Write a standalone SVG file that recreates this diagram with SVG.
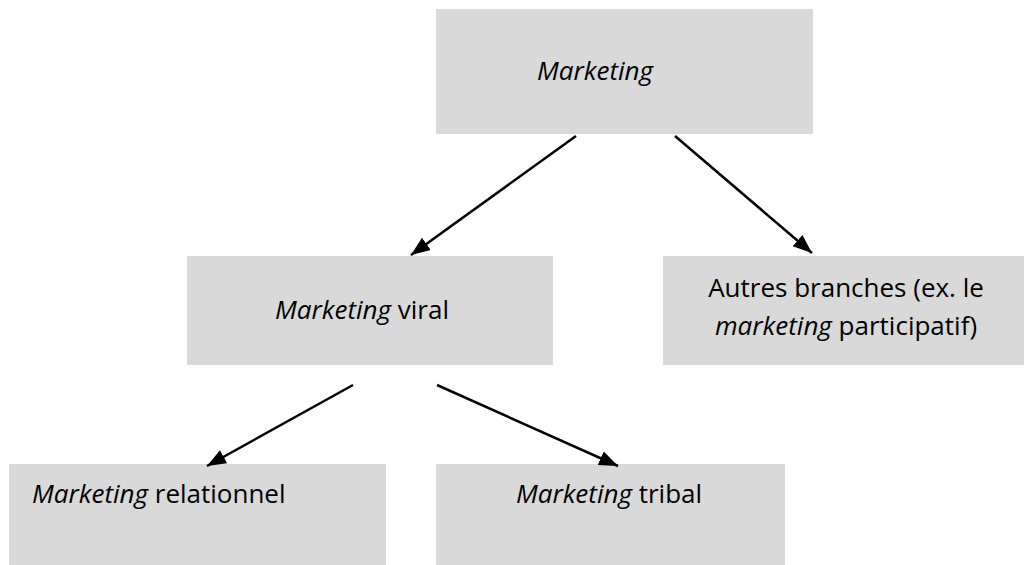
<svg xmlns="http://www.w3.org/2000/svg" width="1028" height="565" viewBox="0 0 1028 565">
<style>
.box{fill:#d9d9d9}
.t{font-family:"Open Sans","Noto Sans",sans-serif;font-size:26px;fill:#000}
.i{font-style:italic}
.c{stroke:#000;stroke-width:2.5;fill:none;marker-end:url(#ah)}
</style>
<defs>
<marker id="ah" markerUnits="userSpaceOnUse" markerWidth="22" markerHeight="18" refX="19" refY="7.5" orient="auto">
<path d="M0,0 L19,7.5 L0,15 Z" fill="#000"/>
</marker>
</defs>
<rect width="1028" height="565" fill="#fff"/>
<g id="n-marketing">
<rect class="box" x="436" y="9" width="377" height="125"/>
<text class="t i" x="595" y="80" text-anchor="middle">Marketing</text>
</g>
<g id="n-viral">
<rect class="box" x="187" y="256" width="366" height="109"/>
<text class="t" x="362" y="319" text-anchor="middle"><tspan class="i">Marketing</tspan> viral</text>
</g>
<g id="n-autres">
<rect class="box" x="663" y="256" width="361" height="109"/>
<text class="t" x="846" y="297" text-anchor="middle">Autres branches (ex. le</text>
<text class="t" x="846" y="335" text-anchor="middle"><tspan class="i">marketing</tspan> participatif)</text>
</g>
<g id="n-relationnel">
<rect class="box" x="9" y="464" width="377" height="101"/>
<text class="t" x="32" y="503"><tspan class="i">Marketing</tspan> relationnel</text>
</g>
<g id="n-tribal">
<rect class="box" x="436" y="464" width="349" height="101"/>
<text class="t" x="609" y="503" text-anchor="middle"><tspan class="i">Marketing</tspan> tribal</text>
</g>
<g id="connectors">
<line class="c" x1="576" y1="136" x2="411" y2="255"/>
<line class="c" x1="675" y1="136" x2="812" y2="253"/>
<line class="c" x1="353" y1="385" x2="207" y2="466"/>
<line class="c" x1="437" y1="385" x2="618" y2="466"/>
</g>
</svg>
